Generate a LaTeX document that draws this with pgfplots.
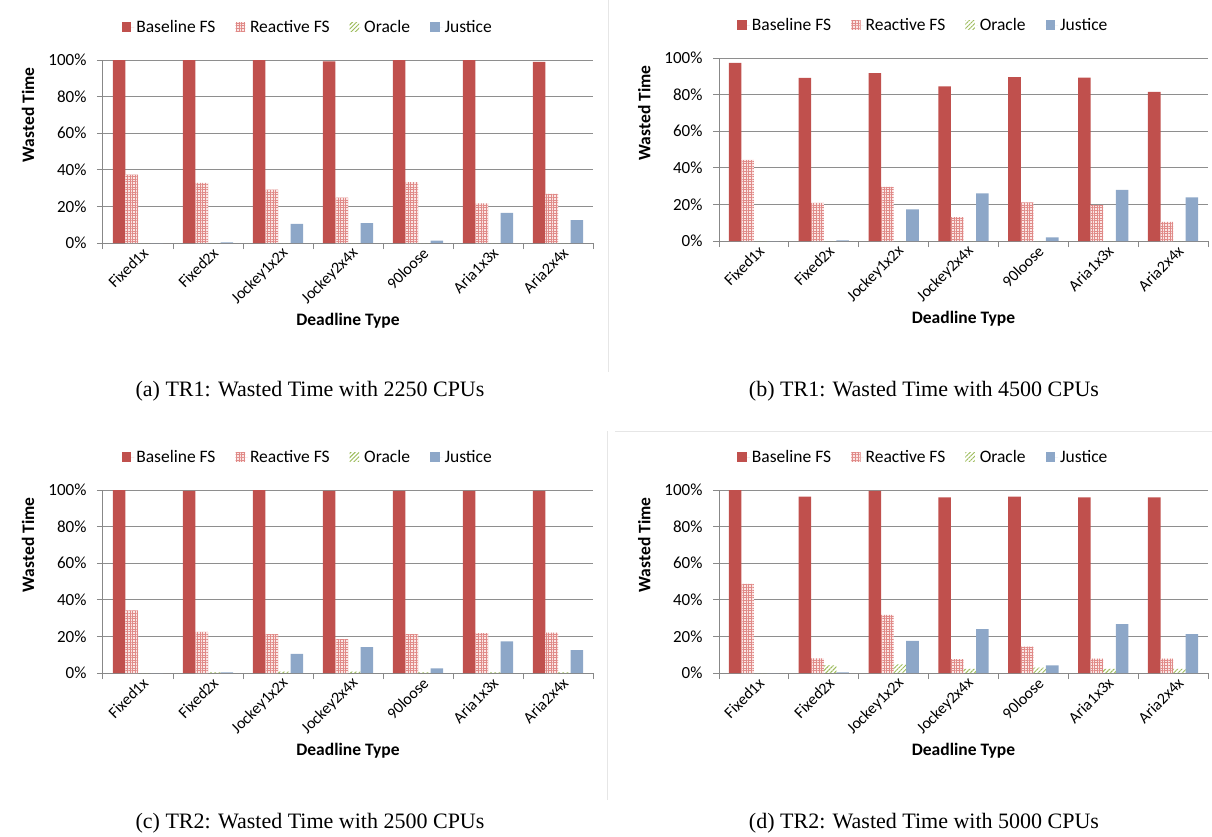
\documentclass[border=0pt]{standalone}
\usepackage{fontspec}
\setmainfont{Carlito}
\newfontfamily\capfont{Liberation Serif}
\usepackage{pgfplots}
\usepackage{pgfplotstable}
\pgfplotsset{compat=1.18}
\usetikzlibrary{patterns.meta}

\definecolor{baseRed}{HTML}{C0504D}
\definecolor{reactFill}{HTML}{FBE6E5}
\definecolor{reactLine}{HTML}{E08A88}
\definecolor{oracleGreen}{HTML}{9BBB59}
\definecolor{justiceBlue}{HTML}{8DA7C8}
\definecolor{axisgray}{HTML}{888888}
\definecolor{gridgray}{HTML}{8E8E8E}
\definecolor{framegray}{HTML}{E6E6E6}

\pgfplotstableread{
x base react oracle justice
0 100  37.4 0 0
1 100  32.8 0 0.3
2 100  29.2 0 10.4
3 99.2 24.8 0 10.9
4 100  33.2 0 1.3
5 100  21.7 0 16.4
6 99   26.8 0 12.5
}\tA
\pgfplotstableread{
x base react oracle justice
0 97.3 44.4 0 0
1 89.1 20.9 0 0.3
2 91.8 29.6 0 17.3
3 84.5 13.1 0 26.0
4 89.6 21.1 0 2.0
5 89.3 19.6 0 28.0
6 81.5 10.5 0 23.8
}\tB
\pgfplotstableread{
x base react oracle justice
0 100  34.2 0   0
1 99.5 22.5 0.3 0.3
2 100  21.3 0.7 10.5
3 99.5 18.5 0.7 14.2
4 99.5 21.3 0.3 2.5
5 99.5 21.8 0.3 17.3
6 99.5 22.0 0.3 12.5
}\tC
\pgfplotstableread{
x base react oracle justice
0 100  48.7 0   0
1 96.4 8.0  4.2 0.3
2 99.5 31.8 4.7 17.6
3 96.0 7.6  2.2 24.0
4 96.4 14.4 2.9 4.2
5 96.0 7.8  2.2 26.7
6 96.0 7.8  2.2 21.3
}\tD

\pgfplotsset{
 wt/.style={
  scale only axis, width=490pt, height=183pt,
  ybar=0pt, bar width=0.18,
  xmin=-0.5, xmax=6.5, ymin=0, ymax=100,
  xtick={0,1,2,3,4,5,6},
  xticklabels={Fixed1x,Fixed2x,Jockey1x2x,Jockey2x4x,90loose,Aria1x3x,Aria2x4x},
  minor xtick={-0.5,0.5,1.5,2.5,3.5,4.5,5.5,6.5},
  ytick={0,20,40,60,80,100},
  yticklabel={\pgfmathprintnumber{\tick}\%},
  /pgf/number format/assume math mode=true,
  axis x line*=bottom, axis y line*=left,
  axis line style={draw=axisgray, line width=1pt},
  ymajorgrids, grid style={draw=gridgray, line width=1pt},
  tick align=outside, major tick length=6pt, minor tick length=6pt,
  major x tick style={draw=none},
  minor x tick style={draw=axisgray, line width=1pt},
  y tick style={draw=axisgray, line width=1pt},
  tick label style={text=black},
  yticklabel style={xshift=-7pt, font=\fontsize{17}{20}\selectfont},
  xticklabel style={xshift=10pt, yshift=1pt, rotate=45, anchor=east, font=\fontsize{16}{19}\selectfont},
  xlabel={Deadline Type}, ylabel={Wasted Time},
  every axis x label/.style={at={(axis description cs:0.5,-0.425)}, anchor=center,
     font=\fontsize{17.5}{20}\selectfont\bfseries},
  every axis y label/.style={at={(axis description cs:-0.153,0.70)}, rotate=90, anchor=center,
     font=\fontsize{17.5}{20}\selectfont\bfseries},
  legend columns=4,
  legend style={draw=none, fill=none, font=\fontsize{17.5}{20}\selectfont,
    at={(axis description cs:0.418,1.18)}, anchor=center,
    /tikz/every even column/.append style={column sep=18pt}},
  legend image code/.code={\draw[##1, draw=none] (0pt,-4.5pt) rectangle (9.5pt,5pt); \path (0pt,0pt) -- (12.5pt,0pt);},
 },
 sBase/.style={fill=baseRed, draw=none},
 sReact/.style={fill=reactFill, draw=none, postaction={pattern={Hatch[distance=2.6pt, line width=0.7pt]}, pattern color=reactLine}},
 sOracle/.style={draw=none, pattern={Lines[angle=45, distance=3pt, line width=1pt]}, pattern color=oracleGreen},
 sJustice/.style={fill=justiceBlue, draw=none},
}

\newcommand{\panel}[1]{%
  \addplot[sBase] table[x=x,y=base]{#1};
  \addplot[sReact] table[x=x,y=react]{#1};
  \addplot[sOracle] table[x=x,y=oracle]{#1};
  \addplot[sJustice] table[x=x,y=justice]{#1};
  \legend{Baseline FS, Reactive FS, Oracle, Justice}
}

\begin{document}
\begin{tikzpicture}
\path[use as bounding box] (0,0) rectangle (1212pt,-837pt);
\draw[framegray, line width=1pt] (608pt,0pt) -- (608pt,-372pt);
\draw[framegray, line width=1pt] (615pt,-431pt) -- (1212pt,-431pt);
\draw[framegray, line width=1pt] (607pt,-431pt) -- (607pt,-800pt);

\begin{axis}[wt, at={(103pt,-243pt)}, anchor=south west]
\panel{\tA}
\end{axis}
\begin{axis}[wt, width=489pt, at={(719pt,-241pt)}, anchor=south west]
\panel{\tB}
\end{axis}
\begin{axis}[wt, at={(103pt,-673pt)}, anchor=south west]
\panel{\tC}
\end{axis}
\begin{axis}[wt, width=489pt, at={(719pt,-673pt)}, anchor=south west]
\panel{\tD}
\end{axis}

\node[font=\capfont\fontsize{22}{26}\selectfont] at (310pt,-391pt) {(a) TR1: Wasted Time with 2250 CPUs};
\node[font=\capfont\fontsize{22}{26}\selectfont] at (924pt,-391pt) {(b) TR1: Wasted Time with 4500 CPUs};
\node[font=\capfont\fontsize{22}{26}\selectfont] at (310pt,-823pt) {(c) TR2: Wasted Time with 2500 CPUs};
\node[font=\capfont\fontsize{22}{26}\selectfont] at (924pt,-823pt) {(d) TR2: Wasted Time with 5000 CPUs};
\end{tikzpicture}
\end{document}
